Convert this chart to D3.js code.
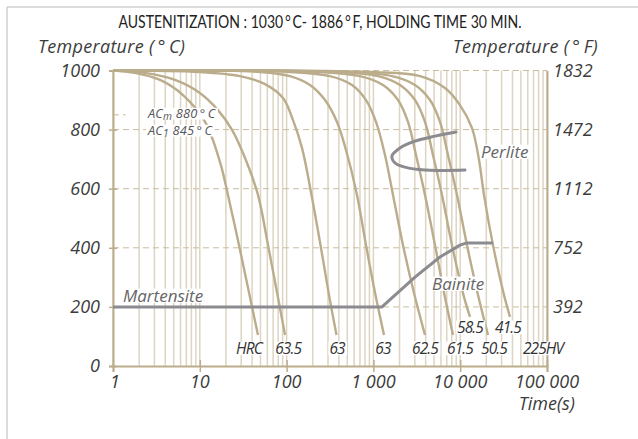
<!DOCTYPE html>
<html><head><meta charset="utf-8">
<script src="https://cdn.jsdelivr.net/npm/d3@7"></script>
<style>body{margin:0;background:#fff} svg{display:block} text{font-family:"Open Sans",sans-serif}</style>
</head><body><svg id="c" width="638" height="439"></svg>
<script>
// ---------- data ----------
const titleText = "AUSTENITIZATION : 1030\u2009°\u2009C- 1886\u2009°\u2009F, HOLDING TIME 30 MIN.";
const axisTitleC = "Temperature (\u2009°\u2009C)";
const axisTitleF = "Temperature (\u2009°\u2009F)";
const timeTicks = [1, 10, 100, 1000, 10000, 100000];
const timeTickLabels = ["1", "10", "100", "1 000", "10 000", "100 000"];
const tempTicksC = [0, 200, 400, 600, 800, 1000];
const tempTicksF = [392, 752, 1112, 1472, 1832];
const gridTempsC = [200, 400, 600, 800, 1000];
const acmTemp = 850;

// cooling curves: [time s, temp °C]
const cool1 = [[1,1000],[1.79,992],[3.48,968],[6.4,917],[11.5,826],[17.1,690],[21.1,579],[28.3,409],[37.4,240],[46.8,105]];
const cool2 = [[1,1000],[2.34,992],[5.18,968],[10,924],[16.2,866],[23.5,799],[33.2,704],[46.8,579],[61.1,409],[78.6,240],[95.9,105]];
const cool3 = [[1,1000],[10,995],[29,981],[56.4,954],[90.9,907],[118.5,832],[150.4,738],[193.6,579],[245.9,409],[308,240],[375.7,105]];
const cool4 = [[1,1000],[49.4,995],[109.4,981],[186,951],[277,900],[380.7,826],[483.4,731],[647,579],[821.6,409],[1057,240],[1325,105]];
const cool5 = [[1,1000],[109,995],[316,981],[567,951],[822,900],[1072,826],[1360,714],[1682,579],[2193,409],[2975,240],[3930,105]];
const cool6 = [[1,1000],[242.6,995],[701,981],[1290,951],[1920,900],[2503,826],[3096,714],[3930,579],[5125,409],[6594,240],[8262,105]];
const cool7 = [[1,1000],[361,995],[1130,981],[2025,951],[3015,900],[3930,826],[4860,714],[6170,579],[8045,409],[10915,240],[12970,166]];
const cool8 = [[1,1000],[471,995],[1638,981],[3015,951],[4488,900],[5853,826],[7236,714],[9186,579],[11977,409],[16040,240],[20910,105]];
const cool9 = [[1,1000],[913,995],[3443,981],[6680,941],[9948,883],[13677,805],[16465,697],[18800,579],[23870,409],[31960,240],[37470,166]];
const coolingCurves = [cool1, cool2, cool3, cool4, cool5, cool6, cool7, cool8, cool9];

const perlite = [[8950,792],[5127,778],[3015,761],[2025,738],[1637,711],[1774,687],[2312,673],[3929,663],[6680,662],[11350,663]];
const bainite = [[1,200],[1256,200],[3015,301],[5848,369],[9955,409],[11660,416],[23880,416]];

const hardLabels = ["HRC","63.5","63","63","62.5","61.5","58.5","50.5","41.5","225HV"];
const hardTimes  = [36.9, 104, 381, 1288, 3929, 9955, 12970, 24500, 35560, 89900];
const hardTemps  = [40, 40, 40, 40, 40, 40, 111, 40, 111, 40];

// ---------- drawing ----------
const svg = d3.select("#c");
const x = d3.scaleLog().domain([1, 100000]).range([113, 547]);
const y = d3.scaleLinear().domain([0, 1000]).range([366, 70.5]);
const yF = d3.scaleLinear().domain([32, 1832]).range([366, 70.5]);

const tan = "#bbad8c", grid = "#ddd5c3", dash = "#c9bd9d", gray = "#8b8b90", txt = "#3c3c3c";

// frame
svg.append("line").attr("x1",7).attr("y1",7).attr("x2",638).attr("y2",7).attr("stroke","#cfcfcf").attr("stroke-width",1.5);
svg.append("line").attr("x1",7).attr("y1",7).attr("x2",7).attr("y2",439).attr("stroke","#cfcfcf").attr("stroke-width",1.5);

// titles
svg.append("text").attr("x",320).attr("y",28).attr("text-anchor","middle").style("font-family","Lato, 'Open Sans', sans-serif")
  .attr("font-size",17.5).attr("fill","#222").attr("textLength",403).attr("lengthAdjust","spacingAndGlyphs").text(titleText);
svg.append("text").attr("x",38).attr("y",53).attr("font-size",18).attr("letter-spacing",0.3).attr("font-style","italic").attr("fill",txt).text(axisTitleC);
svg.append("text").attr("x",598).attr("y",53).attr("text-anchor","end").attr("font-size",18).attr("letter-spacing",0.3).attr("font-style","italic").attr("fill",txt).text(axisTitleF);

// vertical grid
svg.append("g").selectAll("line").data(x.ticks()).join("line")
  .attr("x1",d=>x(d)).attr("x2",d=>x(d)).attr("y1",y(0)).attr("y2",y(1000))
  .attr("stroke",grid).attr("stroke-width",1.5);

// horizontal dashed grid
svg.append("g").selectAll("line").data(gridTempsC).join("line")
  .attr("x1",x(1)).attr("x2",x(100000)).attr("y1",d=>y(d)).attr("y2",d=>y(d))
  .attr("stroke",dash).attr("stroke-width",1).attr("stroke-dasharray","6,4");
svg.append("line").attr("x1",x(1)).attr("x2",x(1.4)).attr("y1",y(acmTemp)).attr("y2",y(acmTemp))
  .attr("stroke",dash).attr("stroke-width",1).attr("stroke-dasharray","6,4");

// axes
const xAxis = d3.axisBottom(x).tickValues(timeTicks).tickSize(6).tickFormat("");
const gx = svg.append("g").attr("transform",`translate(0,${y(0)})`).call(xAxis);
gx.select(".domain").attr("stroke",tan).attr("stroke-width",2);
gx.selectAll(".tick line").attr("stroke",tan).attr("stroke-width",1.5).attr("y1",-6);
const yAxis = d3.axisLeft(y).tickValues(tempTicksC).tickSize(4).tickFormat("");
const gy = svg.append("g").attr("transform",`translate(${x(1)},0)`).call(yAxis);
gy.select(".domain").attr("stroke",tan).attr("stroke-width",2);
gy.selectAll(".tick line").attr("stroke",tan).attr("stroke-width",1.5).attr("x2",-4).attr("x1",4);
const yAxisR = d3.axisRight(yF).tickValues(tempTicksF).tickSize(0).tickFormat("");
const gyr = svg.append("g").attr("transform",`translate(${x(100000)},0)`).call(yAxisR);
gyr.select(".domain").attr("stroke",tan).attr("stroke-width",2);

// tick labels
svg.append("g").selectAll("text").data(tempTicksC).join("text")
  .attr("x",100).attr("y",d=>y(d)+6).attr("text-anchor","end").attr("font-size",18).attr("font-style","italic").attr("fill",txt).text(d=>d);
svg.append("g").selectAll("text").data(tempTicksF).join("text")
  .attr("x",553).attr("y",d=>yF(d)+6).attr("font-size",18).attr("font-style","italic").attr("fill",txt).text(d=>d);
svg.append("g").selectAll("text").data(timeTicks).join("text")
  .attr("x",(d,i)=>x(d)+(i===0?2:0)).attr("y",388).attr("text-anchor","middle").attr("font-size",18).attr("font-style","italic").attr("fill",txt)
  .text((d,i)=>timeTickLabels[i]);
svg.append("text").attr("x",575).attr("y",410).attr("text-anchor","end").attr("font-size",18).attr("font-style","italic").attr("fill",txt).text("Time(s)");

// curves
const line = d3.line().x(d=>x(d[0])).y(d=>y(d[1])).curve(d3.curveCatmullRom.alpha(0.5));
svg.append("g").selectAll("path").data(coolingCurves).join("path")
  .attr("d",line).attr("fill","none").attr("stroke",tan).attr("stroke-width",2.4);

// perlite & bainite
svg.append("path").datum(perlite).attr("d",line).attr("fill","none").attr("stroke",gray).attr("stroke-width",3).attr("stroke-linecap","round");
svg.append("path").datum(bainite).attr("d",d3.line().x(d=>x(d[0])).y(d=>y(d[1]))).attr("fill","none").attr("stroke",gray).attr("stroke-width",3).attr("stroke-linejoin","round");

// labels with white background
function label(px, py, str, opts) {
  const g = svg.append("g");
  const size = opts.size||14;
  const t = g.append("text").attr("x",px).attr("y",py).attr("text-anchor",opts.anchor||"start")
    .attr("font-size",size).attr("font-style","italic").attr("fill",opts.color||txt)
    .attr("letter-spacing",opts.ls||0);
  if (opts.parts) {
    opts.parts.forEach(p=>{
      const s = t.append("tspan").text(p.t);
      if (p.sub) s.attr("font-size",size*0.8).attr("dy",2);
      if (p.back) s.attr("dy",-2);
    });
  } else t.text(str);
  const b = t.node().getBBox();
  const pad = opts.pad==null?1:opts.pad;
  g.insert("rect","text").attr("x",b.x-pad).attr("y",b.y+b.height*0.2).attr("width",b.width+2*pad).attr("height",b.height*0.62).attr("fill","#fff");
}
label(148, 118, null, {size:12.8, ls:0.2, parts:[{t:"AC"},{t:"m",sub:true},{t:" 880\u2009°\u2009C",back:true}], color:"#555"});
label(148, 135, null, {size:12.8, ls:0.2, parts:[{t:"AC"},{t:"1",sub:true},{t:" 845\u2009°\u2009C",back:true}], color:"#555"});
label(123, 302, "Martensite", {size:17, color:"#666"});
label(432, 290, "Bainite", {size:17, color:"#666"});
label(481, 158, "Perlite", {size:17, color:"#666"});
hardLabels.forEach((s,i)=>{
  label(x(hardTimes[i]), y(hardTemps[i]), s, {size:15.5, anchor:"middle", ls:-0.9, color:"#333"});
});
</script></body></html>
